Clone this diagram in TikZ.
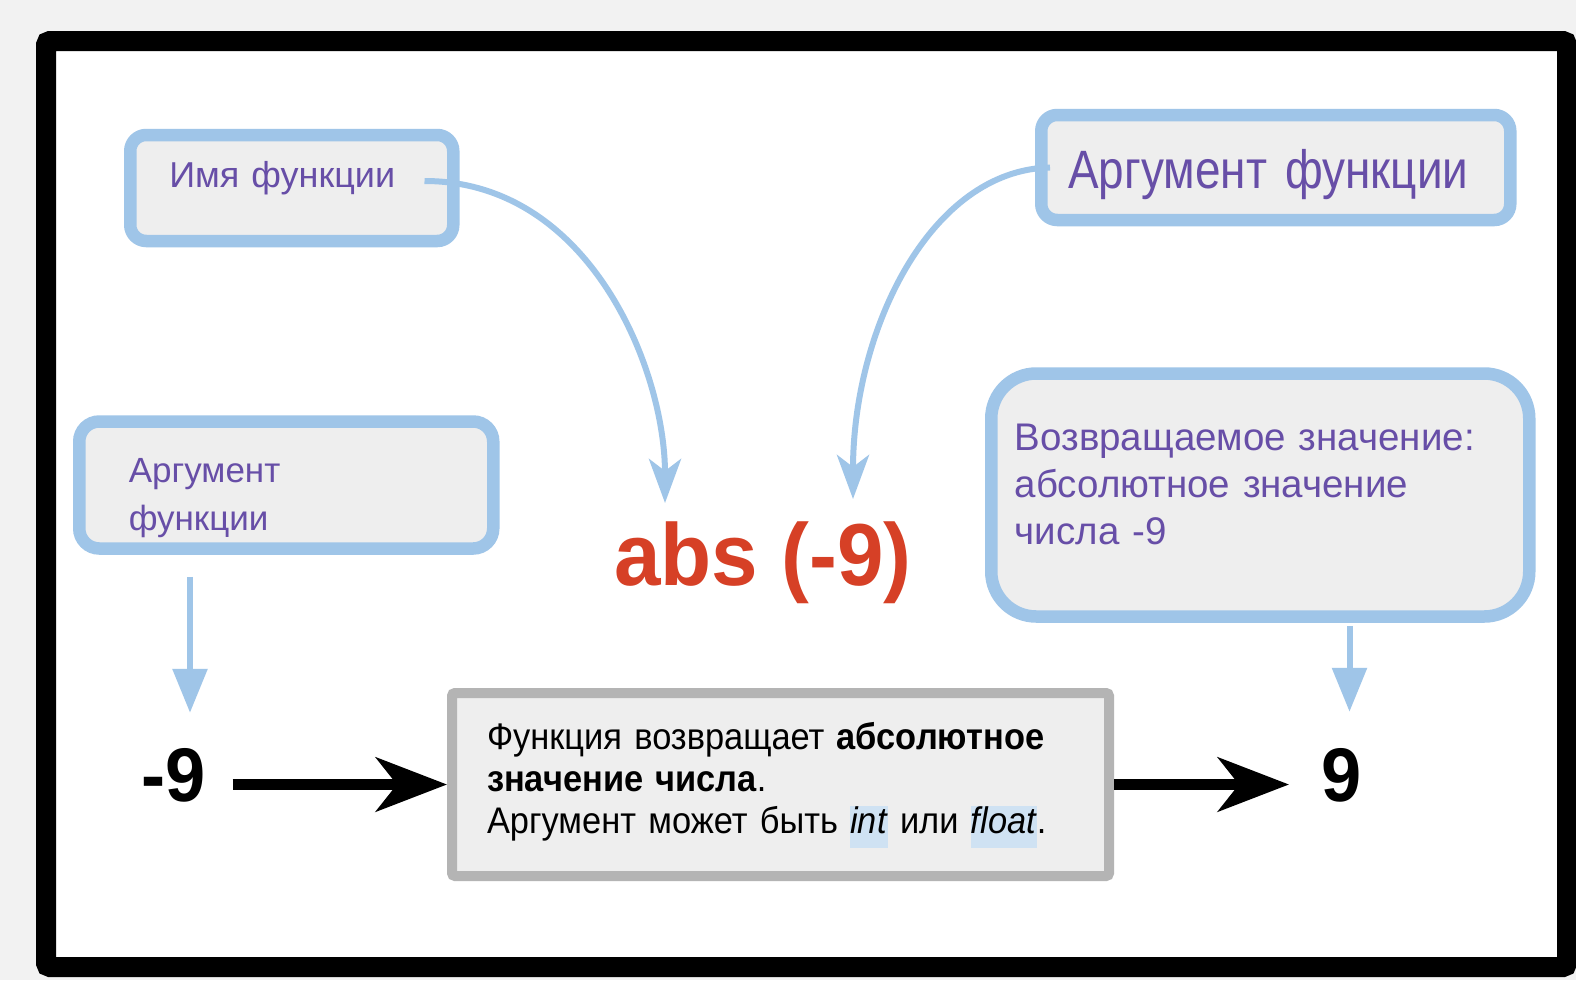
\documentclass[tikz,border=0pt]{standalone}
\usepackage{fontspec}
\setmainfont{Liberation Sans}
\newfontfamily\condfont{Liberation Sans}[FakeStretch=0.85, WordSpace=0.6]
\newfontfamily\descfont{Liberation Sans}[FakeStretch=0.93, WordSpace=0.7]
\newfontfamily\numfont{Liberation Sans}[FakeStretch=0.95]
\usetikzlibrary{arrows.meta, calc, positioning}

\definecolor{framebg}{RGB}{242,242,242}
\definecolor{boxblue}{RGB}{159,197,232}
\definecolor{boxfill}{RGB}{238,238,238}
\definecolor{labelpurple}{RGB}{103,78,167}
\definecolor{absred}{RGB}{214,64,38}
\definecolor{greyline}{RGB}{180,180,180}
\definecolor{hlblue}{RGB}{207,226,243}
\newcommand{\hlword}[1]{{\setlength{\fboxsep}{0pt}\colorbox{hlblue}{\rule[-15pt]{0pt}{40pt}\itshape #1\hspace{1pt}}}}

\begin{document}
\begin{tikzpicture}[x=1pt, y=-1pt,
    bluebox/.style={draw=boxblue, line width=12.5pt, fill=boxfill, text=labelpurple, rounded corners=16pt, inner ysep=0pt, align=left, anchor=base west},
    bluearrow/.style={draw=boxblue, line width=6pt},
    blackarrow/.style={line width=11pt, -{Stealth[length=71pt, width=54pt, inset=21pt]}},
    bignum/.style={inner sep=0pt, anchor=base west, font=\numfont\bfseries\fontsize{76}{80}\selectfont}]
\useasboundingbox (0,0) rectangle (1576,980);
\fill[framebg] (0,0) rectangle (1576,980);
\draw[line width=20pt, rounded corners=4pt, fill=white] (46,41) rectangle (1567,967);

\node[bluebox, inner xsep=39pt, text width=245pt, text height=52pt, text depth=54pt, font=\fontsize{36}{44}\selectfont] (namebox) at (124,187) {Имя функции};
\node[bluebox, inner xsep=27pt, text width=415pt, text height=73pt, text depth=32pt, font=\condfont\fontsize{54}{60}\selectfont] (argbox) at (1035,188) {Аргумент функции};
\node[bluebox, inner xsep=49.5pt, text width=315pt, text height=60.5pt, text depth=66.5pt, rounded corners=20pt, font=\fontsize{35}{48}\selectfont] (argleft) at (73,482) {Аргумент\\функции};
\node[bluebox, inner xsep=23.5pt, text width=491pt, text height=76.5pt, text depth=166.5pt, rounded corners=45pt, font=\fontsize{38.5}{47}\selectfont] (retbox) at (985,450) {Возвращаемое значение:\\абсолютное значение\\числа -9};

\node[inner sep=0pt, anchor=base, text=absred, font=\numfont\bfseries\fontsize{88}{90}\selectfont] (abscall) at (763,585) {abs (-9)};
\coordinate (nametip) at (665,503);
\coordinate (argtip) at (853,499);

\node[anchor=base west, draw=greyline, line width=10pt, fill=boxfill, rounded corners=3pt, inner xsep=35pt, inner ysep=0pt, text width=587pt, text height=56pt, text depth=127pt, align=left, font=\descfont\fontsize{37}{42}\selectfont] (descbox) at (447,749)
    {Функция возвращает \textbf{абсолютное}\\\textbf{значение числа}.\\Аргумент может быть \hlword{int} или \hlword{float}.};

\node[bignum] (minusnine) at (141,801) {-9};
\node[bignum] (nine) at (1321,801) {9};

\draw[bluearrow, -{Stealth[length=44pt, width=32pt, inset=12pt]}] ($(namebox.east)+(-35,-7)$) .. controls (590,181) and (665,370) .. (nametip);
\draw[bluearrow, -{Stealth[length=44pt, width=32pt, inset=12pt]}] ($(argbox.west)+(15,0)$) .. controls (930,170) and (853,330) .. (argtip);
\draw[bluearrow, -{Triangle[length=44pt, width=34pt]}] ($(argleft.south west)+(117,22)$) -- ++(0,136);
\draw[bluearrow, -{Triangle[length=44pt, width=34pt]}] ($(retbox.south east)+(-186,3)$) -- ++(0,86);

\draw[blackarrow, shorten <=27pt] (minusnine.east |- descbox.west) -- (descbox.west);
\draw[blackarrow, shorten >=32pt] (descbox.east) -- (nine.west |- descbox.east);
\end{tikzpicture}
\end{document}
